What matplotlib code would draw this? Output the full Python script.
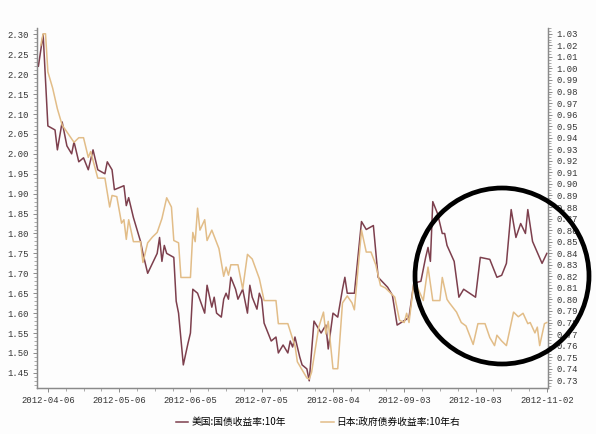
import matplotlib
matplotlib.use("Agg")
import matplotlib.pyplot as plt
import matplotlib.dates as mdates
from matplotlib.ticker import MultipleLocator, FixedLocator, FormatStrFormatter
from matplotlib.patches import Ellipse
import pandas as pd

us_dates = ["2012-04-02", "2012-04-04", "2012-04-06", "2012-04-09", "2012-04-10", "2012-04-12",
            "2012-04-14", "2012-04-16", "2012-04-17", "2012-04-19", "2012-04-21", "2012-04-23",
            "2012-04-25", "2012-04-27", "2012-04-30", "2012-05-01", "2012-05-03", "2012-05-04",
            "2012-05-08", "2012-05-09", "2012-05-10", "2012-05-12", "2012-05-15", "2012-05-16",
            "2012-05-18", "2012-05-22", "2012-05-23", "2012-05-24", "2012-05-25", "2012-05-26",
            "2012-05-29", "2012-05-30", "2012-05-31", "2012-06-02", "2012-06-04", "2012-06-05",
            "2012-06-06", "2012-06-08", "2012-06-11", "2012-06-12", "2012-06-14", "2012-06-15",
            "2012-06-16", "2012-06-18", "2012-06-19", "2012-06-20", "2012-06-21", "2012-06-22",
            "2012-06-24", "2012-06-25", "2012-06-27", "2012-06-29", "2012-06-30", "2012-07-01",
            "2012-07-03", "2012-07-04", "2012-07-05", "2012-07-06", "2012-07-09", "2012-07-11",
            "2012-07-12", "2012-07-14", "2012-07-16", "2012-07-17", "2012-07-18", "2012-07-19",
            "2012-07-21", "2012-07-22", "2012-07-24", "2012-07-25", "2012-07-27", "2012-07-30",
            "2012-08-01", "2012-08-02", "2012-08-04", "2012-08-06", "2012-08-08", "2012-08-09",
            "2012-08-10", "2012-08-13", "2012-08-16", "2012-08-18", "2012-08-21", "2012-08-23",
            "2012-08-27", "2012-08-29", "2012-08-31", "2012-09-04", "2012-09-05", "2012-09-07",
            "2012-09-10", "2012-09-12", "2012-09-13", "2012-09-14", "2012-09-15", "2012-09-17",
            "2012-09-19", "2012-09-20", "2012-09-21", "2012-09-24", "2012-09-26", "2012-09-28",
            "2012-10-03", "2012-10-05", "2012-10-09", "2012-10-12", "2012-10-14", "2012-10-16",
            "2012-10-18", "2012-10-20", "2012-10-22", "2012-10-24", "2012-10-25", "2012-10-27",
            "2012-10-31", "2012-11-02"]
us_values = [2.22, 2.30, 2.07, 2.06, 2.01, 2.08,
             2.02, 2.00, 2.03, 1.98, 1.99, 1.96,
             2.01, 1.96, 1.95, 1.98, 1.96, 1.91,
             1.92, 1.87, 1.89, 1.84, 1.78, 1.75,
             1.70, 1.75, 1.79, 1.73, 1.77, 1.75,
             1.74, 1.63, 1.60, 1.47, 1.525, 1.55,
             1.66, 1.65, 1.60, 1.67, 1.615, 1.64,
             1.60, 1.59, 1.635, 1.65, 1.635, 1.69,
             1.66, 1.635, 1.66, 1.60, 1.67, 1.64,
             1.61, 1.65, 1.635, 1.575, 1.53, 1.54,
             1.50, 1.52, 1.50, 1.53, 1.515, 1.54,
             1.49, 1.47, 1.46, 1.43, 1.58, 1.55,
             1.57, 1.51, 1.60, 1.59, 1.66, 1.69,
             1.65, 1.65, 1.83, 1.81, 1.82, 1.69,
             1.665, 1.645, 1.57, 1.585, 1.59, 1.675,
             1.68, 1.74, 1.765, 1.73, 1.88, 1.85,
             1.80, 1.80, 1.77, 1.73, 1.64, 1.66,
             1.64, 1.74, 1.735, 1.69, 1.695, 1.725,
             1.86, 1.79, 1.825, 1.80, 1.86, 1.78,
             1.725, 1.75]

jp_dates = ["2012-04-03", "2012-04-04", "2012-04-05", "2012-04-06", "2012-04-08", "2012-04-10",
            "2012-04-12", "2012-04-15", "2012-04-17", "2012-04-19", "2012-04-21", "2012-04-23",
            "2012-04-24", "2012-04-27", "2012-04-30", "2012-05-02", "2012-05-03", "2012-05-05",
            "2012-05-07", "2012-05-08", "2012-05-09", "2012-05-10", "2012-05-12", "2012-05-15",
            "2012-05-16", "2012-05-18", "2012-05-20", "2012-05-22", "2012-05-24", "2012-05-26",
            "2012-05-28", "2012-05-29", "2012-05-31", "2012-06-01", "2012-06-05", "2012-06-06",
            "2012-06-07", "2012-06-08", "2012-06-09", "2012-06-11", "2012-06-12", "2012-06-14",
            "2012-06-17", "2012-06-19", "2012-06-20", "2012-06-21", "2012-06-22", "2012-06-25",
            "2012-06-27", "2012-06-29", "2012-07-01", "2012-07-04", "2012-07-06", "2012-07-11",
            "2012-07-12", "2012-07-16", "2012-07-18", "2012-07-19", "2012-07-20", "2012-07-22",
            "2012-07-24", "2012-07-25", "2012-07-26", "2012-07-27", "2012-07-29", "2012-07-31",
            "2012-08-01", "2012-08-02", "2012-08-04", "2012-08-06", "2012-08-08", "2012-08-10",
            "2012-08-12", "2012-08-13", "2012-08-16", "2012-08-18", "2012-08-20", "2012-08-22",
            "2012-08-24", "2012-08-26", "2012-08-28", "2012-08-30", "2012-09-01", "2012-09-03",
            "2012-09-04", "2012-09-05", "2012-09-07", "2012-09-08", "2012-09-11", "2012-09-13",
            "2012-09-15", "2012-09-18", "2012-09-19", "2012-09-21", "2012-09-22", "2012-09-25",
            "2012-09-27", "2012-09-29", "2012-10-02", "2012-10-04", "2012-10-07", "2012-10-09",
            "2012-10-11", "2012-10-12", "2012-10-14", "2012-10-16", "2012-10-19", "2012-10-21",
            "2012-10-23", "2012-10-25", "2012-10-26", "2012-10-28", "2012-10-29", "2012-10-30",
            "2012-11-01", "2012-11-02"]
jp_values = [1.020, 1.030, 1.030, 0.997, 0.983, 0.965,
             0.951, 0.942, 0.936, 0.940, 0.940, 0.923,
             0.928, 0.905, 0.905, 0.880, 0.890, 0.889,
             0.866, 0.869, 0.852, 0.869, 0.850, 0.850,
             0.832, 0.849, 0.854, 0.858, 0.870, 0.888,
             0.880, 0.851, 0.849, 0.819, 0.819, 0.858,
             0.850, 0.879, 0.860, 0.869, 0.851, 0.860,
             0.844, 0.820, 0.828, 0.821, 0.830, 0.830,
             0.809, 0.839, 0.835, 0.818, 0.799, 0.799,
             0.779, 0.779, 0.766, 0.760, 0.746, 0.739,
             0.732, 0.731, 0.737, 0.750, 0.776, 0.789,
             0.770, 0.781, 0.740, 0.740, 0.797, 0.803,
             0.797, 0.791, 0.860, 0.841, 0.841, 0.830,
             0.812, 0.810, 0.806, 0.802, 0.782, 0.780,
             0.788, 0.780, 0.814, 0.813, 0.799, 0.828,
             0.799, 0.799, 0.819, 0.800, 0.797, 0.789,
             0.780, 0.777, 0.761, 0.779, 0.779, 0.767,
             0.760, 0.769, 0.764, 0.760, 0.789, 0.785,
             0.788, 0.779, 0.780, 0.771, 0.776, 0.760,
             0.779, 0.780]

x_tick_labels = ["2012-04-06", "2012-05-06", "2012-06-05", "2012-07-05",
                 "2012-08-04", "2012-09-03", "2012-10-03", "2012-11-02"]
legend_labels = ["美国:国债收益率:10年", "日本:政府债券收益率:10年右"]

us_color = "#7d3f4d"
jp_color = "#e2bd88"
spine_color = "#8a8a8a"
tick_font = "Liberation Mono"

fig = plt.figure(figsize=(5.96, 4.34), dpi=100)
fig.patch.set_facecolor("#fdfdfd")
ax = fig.add_axes([37 / 596, 1 - 388 / 434, (548 - 37) / 596, (388 - 28) / 434])
ax.set_facecolor("#fdfdfd")
ax2 = ax.twinx()

us_x = pd.to_datetime(us_dates)
jp_x = pd.to_datetime(jp_dates)
l1, = ax.plot(us_x, us_values, color=us_color, lw=1.1, zorder=3)
l2, = ax2.plot(jp_x, jp_values, color=jp_color, lw=1.1, zorder=3)

ax.set_xlim(pd.Timestamp("2012-04-01 10:00"), pd.Timestamp("2012-11-02 12:00"))
ax.set_ylim(1.412, 2.316)
ax2.set_ylim(0.7233, 1.035)

ticks = mdates.date2num(pd.to_datetime(x_tick_labels))
ax.xaxis.set_major_locator(FixedLocator(ticks))
ax.set_xticklabels(x_tick_labels)
minor = [ticks[0] + 7.5 * k for k in range(-1, 29)]
ax.xaxis.set_minor_locator(FixedLocator(minor))

ax.yaxis.set_major_locator(MultipleLocator(0.05))
ax.yaxis.set_minor_locator(MultipleLocator(0.01))
ax.yaxis.set_major_formatter(FormatStrFormatter("%.2f"))
ax2.yaxis.set_major_locator(MultipleLocator(0.01))
ax2.yaxis.set_minor_locator(MultipleLocator(0.0025))
ax2.yaxis.set_major_formatter(FormatStrFormatter("%.2f"))

for a in (ax, ax2):
    for s in a.spines.values():
        s.set_color(spine_color)
        s.set_linewidth(0.9)
    a.spines["top"].set_visible(False)
    a.tick_params(which="both", colors=spine_color, labelcolor="#333333", labelsize=6.4)
    a.tick_params(which="major", length=3, width=0.7)
    a.tick_params(which="minor", length=2, width=0.5)
ax.tick_params(axis="x", pad=2.5)
ax.tick_params(axis="y", pad=3)
ax2.tick_params(axis="y", pad=3)
for lab in ax.get_xticklabels() + ax.get_yticklabels() + ax2.get_yticklabels():
    lab.set_fontfamily(tick_font)

fig.legend([l1, l2], legend_labels, loc="center", bbox_to_anchor=(318 / 596, 1 - 422 / 434),
           ncol=2, frameon=False, handlelength=1.3, handletextpad=0.3, columnspacing=3.6,
           prop={"family": ["Noto Sans CJK SC", "DejaVu Sans"], "size": 7})

ell = Ellipse((502 / 596, 1 - 276 / 434), 174 / 596, 176 / 434, transform=fig.transFigure,
              fill=False, edgecolor="black", lw=3.4, zorder=10)
fig.add_artist(ell)

fig.savefig("out.png", dpi=100, facecolor=fig.get_facecolor())
